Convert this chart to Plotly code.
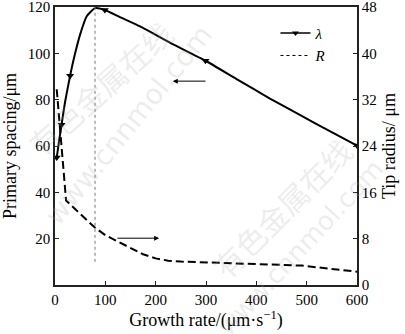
import plotly.graph_objects as go

# ---- data ----
lam_rate = [3.4, 8, 13, 20, 30, 40, 50, 63, 79.5, 99, 130, 169, 230, 299, 360, 427, 490, 546, 600]
lam_val = [55, 62, 69.2, 79, 90.3, 100, 108.2, 116, 119.5, 118.7, 115.5, 111.6, 104.4, 96.8, 89.0, 80.5, 73.0, 66.4, 60.2]
lam_mark_rate = [3.4, 13, 30, 99, 299, 600]
lam_mark_val = [55, 69.2, 90.3, 118.7, 96.8, 60.2]

r_rate = [3.4, 22, 50, 78, 100, 125, 150, 175, 200, 225, 250, 300, 400, 490, 600]
r_val = [33.8, 14.6, 12.3, 10.0, 8.6, 7.5, 6.4, 5.3, 4.6, 4.2, 4.05, 3.9, 3.65, 3.35, 2.3]

vline_rate = 79.5
vline_span = [10, 120]

x_ticks = [0, 100, 200, 300, 400, 500, 600]
y1_ticks = [0, 20, 40, 60, 80, 100, 120]
y1_text = ["", "20", "40", "60", "80", "100", "120"]
y2_ticks = [0, 8, 16, 24, 32, 40, 48]

FONT = "Liberation Serif"
AX = "#222"
W, H = 405, 334
ML, MR, MT, MB = 55, 48, 7, 49

fig = go.Figure()

fig.add_trace(go.Scatter(x=lam_rate, y=lam_val, mode="lines",
                         line=dict(color="black", width=2, shape="spline", smoothing=0.5),
                         showlegend=False, hoverinfo="skip"))
fig.add_trace(go.Scatter(x=lam_mark_rate, y=lam_mark_val, mode="markers",
                         marker=dict(symbol="triangle-down", size=7, color="black"),
                         showlegend=False))
fig.add_trace(go.Scatter(x=[None], y=[None], mode="lines+markers", name="<i>λ</i>",
                         line=dict(color="black", width=1.5),
                         marker=dict(symbol="triangle-down", size=6, color="black")))
fig.add_trace(go.Scatter(x=r_rate, y=r_val, mode="lines", yaxis="y2",
                         line=dict(color="black", width=2, dash="8px,4px"),
                         showlegend=False))
fig.add_trace(go.Scatter(x=[None], y=[None], mode="lines", name="<i>R</i>", yaxis="y2",
                         line=dict(color="black", width=1, dash="dot")))
fig.add_trace(go.Scatter(x=[vline_rate, vline_rate], y=vline_span, mode="lines",
                         line=dict(color="#777", width=1, dash="dot"), showlegend=False))

annotations = [
    dict(x=234, y=88, ax=302, ay=88, xref="x", yref="y", axref="x", ayref="y",
         text="", showarrow=True, arrowhead=2, arrowsize=1, arrowwidth=1, arrowcolor="black"),
    dict(x=207, y=20.2, ax=121, ay=20.2, xref="x", yref="y", axref="x", ayref="y",
         text="", showarrow=True, arrowhead=2, arrowsize=1, arrowwidth=1, arrowcolor="black"),
]
pw, ph = W - ML - MR, H - MT - MB
wm_color = "rgba(170,170,170,0.22)"
for (tx, x, y, ang, fam, sz) in [
    ("有色金属在线", 100, 88, -42, "Noto Sans CJK SC", 30),
    ("www.cnnmol.com", 128, 125, -51, "DejaVu Sans", 28),
    ("有色金属在线", 282, 208, -45, "Noto Sans CJK SC", 30),
    ("www.cnnmol.com", 300, 248, -47, "DejaVu Sans", 26),
]:
    annotations.append(dict(x=(x - ML) / pw, y=(H - MB - y) / ph, xref="paper", yref="paper",
                            xanchor="center", yanchor="middle",
                            text=tx, showarrow=False, textangle=ang,
                            font=dict(family=fam, size=sz, color=wm_color)))

fig.update_layout(
    width=W, height=H,
    margin=dict(l=ML, r=MR, t=MT, b=MB),
    paper_bgcolor="white", plot_bgcolor="white",
    font=dict(family=FONT, size=15, color="black"),
    showlegend=True,
    legend=dict(x=0.73, y=0.965, xanchor="left", yanchor="top", bgcolor="rgba(0,0,0,0)",
                font=dict(family=FONT, size=15), itemwidth=30, tracegroupgap=0),
    xaxis=dict(range=[0, 600], tickvals=x_ticks, ticks="inside", ticklen=4, tickcolor=AX,
               showline=True, linecolor=AX, linewidth=1.5, mirror=True, showgrid=False,
               zeroline=False, title=dict(text="Growth rate/(μm·s<sup>−1</sup>)", standoff=6),
               automargin=False, ticklabeloverflow="allow"),
    yaxis=dict(range=[0, 120], tickvals=y1_ticks, ticktext=y1_text, ticks="inside", ticklen=4,
               tickcolor=AX, showline=True, linecolor=AX, linewidth=1.5, showgrid=False,
               zeroline=False, title=dict(text="Primary spacing/μm", standoff=8),
               automargin=False, ticklabeloverflow="allow"),
    yaxis2=dict(range=[0, 48], tickvals=y2_ticks, ticks="inside", ticklen=4, tickcolor=AX,
                overlaying="y", side="right", showline=True, linecolor=AX, linewidth=1.5,
                showgrid=False, zeroline=False,
                title=dict(text="Tip radius/ μm", standoff=6), automargin=False,
                ticklabeloverflow="allow"),
    annotations=annotations,
)

fig.write_html("out.html", config={"displayModeBar": False},
               post_script="document.body.style.margin='0';document.body.style.overflow='hidden';")
